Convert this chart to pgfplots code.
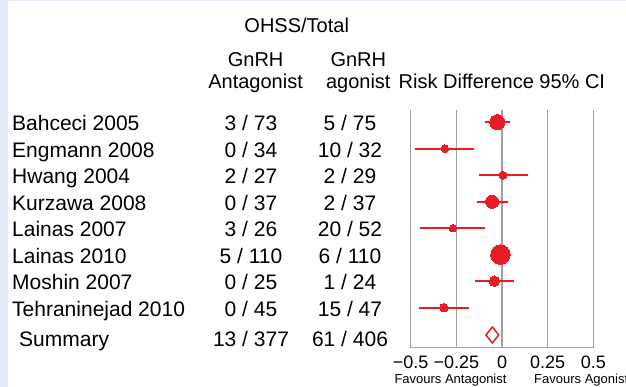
\documentclass[border=0pt]{standalone}
\usepackage{fontspec}
\setmainfont{Liberation Sans}
\usepackage{pgfplots}
\pgfplotsset{compat=1.18}
\usepackage{pgfplotstable}
\definecolor{myred}{RGB}{232,28,36}
\definecolor{gridgray}{RGB}{160,160,160}
\definecolor{bgblue}{RGB}{228,234,246}

\pgfplotstableread{
y rd lo hi r
1 -0.026 -0.095 0.043 7.6
2 -0.313 -0.478 -0.153 3.8
3 0.005 -0.128 0.140 4.0
4 -0.054 -0.137 0.031 6.6
5 -0.269 -0.447 -0.091 3.7
6 -0.009 -0.060 0.042 9.7
7 -0.042 -0.146 0.067 5.2
8 -0.319 -0.457 -0.183 4.3
}\studies

\newcommand{\rowfont}{\fontsize{21}{22}\selectfont}
\newcommand{\headfont}{\fontsize{20}{22}\selectfont}
\newcommand{\studyrow}[4]{%
  \pgfmathsetmacro{\yb}{387-130.7-26.5*(#1-1)}
  \node[font=\rowfont, anchor=base west, inner sep=0pt] at (12,\yb) {#2};
  \node[font=\rowfont, anchor=base, inner sep=0pt] at (251,\yb) {#3};
  \node[font=\rowfont, anchor=base, inner sep=0pt] at (350,\yb) {#4};
}

\begin{document}
\begin{tikzpicture}[x=1pt,y=1pt]
\useasboundingbox (0,0) rectangle (626,387);
\fill[white] (0,0) rectangle (626,387);
\fill[bgblue] (0,0) rectangle (8,387);
\fill[bgblue] (0,386) rectangle (626,387);
\begin{scope}
\clip (0,0) rectangle (626,387);
% header
\node[font=\headfont, anchor=base, inner sep=0pt] at (296.7,354) {OHSS/Total};
\node[font=\headfont, anchor=base, inner sep=0pt] at (255.6,320.3) {GnRH};
\node[font=\headfont, anchor=base, inner sep=0pt] at (255.6,298.7) {Antagonist};
\node[font=\headfont, anchor=base, inner sep=0pt] at (358.3,320.3) {GnRH};
\node[font=\headfont, anchor=base, inner sep=0pt] at (358.3,298.7) {agonist};
\node[font=\headfont, anchor=base west, inner sep=0pt] at (398.5,298.7) {Risk Difference 95\% CI};
% rows
\studyrow{1}{Bahceci 2005}{3 / 73}{5 / 75}
\studyrow{2}{Engmann 2008}{0 / 34}{10 / 32}
\studyrow{3}{Hwang 2004}{2 / 27}{2 / 29}
\studyrow{4}{Kurzawa 2008}{0 / 37}{2 / 37}
\studyrow{5}{Lainas 2007}{3 / 26}{20 / 52}
\studyrow{6}{Lainas 2010}{5 / 110}{6 / 110}
\studyrow{7}{Moshin 2007}{0 / 25}{1 / 24}
\studyrow{8}{Tehraninejad 2010}{0 / 45}{15 / 47}
\node[font=\rowfont, anchor=base west, inner sep=0pt] at (19,40.8) {Summary};
\node[font=\rowfont, anchor=base, inner sep=0pt] at (251,40.5) {13 / 377};
\node[font=\rowfont, anchor=base, inner sep=0pt] at (350,40.5) {61 / 406};
% favours
\node[font=\fontsize{13}{14}\selectfont, anchor=base, inner sep=0pt] at (450.5,3.4) {Favours Antagonist};
\node[font=\fontsize{13}{14}\selectfont, anchor=base west, inner sep=0pt] at (534,3.4) {Favours Agonist};

\begin{axis}[
  at={(410.7pt,39.3pt)}, anchor=south west,
  scale only axis, width=182.6pt, height=237.7pt,
  xmin=-0.5, xmax=0.5, ymin=0.54, ymax=9.51, y dir=reverse,
  axis x line=bottom, axis y line=none,
  axis line style={-, draw=gridgray, line width=1.5pt},
  xtick={-0.5,-0.25,0,0.25,0.5},
  xticklabels={−0.5,−0.25,0,0.25,0.5},
  major tick length=0pt,
  xticklabel style={font=\fontsize{18}{18}\selectfont, anchor=base, yshift=-21.3pt, inner sep=0pt},
  ytick=\empty,
  clip=false,
]
% vertical reference lines (drawn first, behind the data)
\addplot[gridgray, line width=1.5pt, mark=none] coordinates {(-0.5,0.54) (-0.5,9.51)};
\addplot[gridgray, line width=1.5pt, mark=none] coordinates {(-0.25,0.54) (-0.25,9.51)};
\addplot[gridgray, line width=1.5pt, mark=none] coordinates {(0,0.54) (0,9.51)};
\addplot[gridgray, line width=1.5pt, mark=none] coordinates {(0.25,0.54) (0.25,9.51)};
\addplot[gridgray, line width=1.5pt, mark=none] coordinates {(0.5,0.54) (0.5,9.51)};
% confidence intervals
\addplot[myred, line width=1.9pt, mark=none] coordinates {(-0.095,1) (0.043,1)};
\addplot[myred, line width=1.9pt, mark=none] coordinates {(-0.478,2) (-0.153,2)};
\addplot[myred, line width=1.9pt, mark=none] coordinates {(-0.128,3) (0.140,3)};
\addplot[myred, line width=1.9pt, mark=none] coordinates {(-0.137,4) (0.031,4)};
\addplot[myred, line width=1.9pt, mark=none] coordinates {(-0.447,5) (-0.091,5)};
\addplot[myred, line width=1.9pt, mark=none] coordinates {(-0.060,6) (0.042,6)};
\addplot[myred, line width=1.9pt, mark=none] coordinates {(-0.146,7) (0.067,7)};
\addplot[myred, line width=1.9pt, mark=none] coordinates {(-0.457,8) (-0.183,8)};
% point estimates
\addplot[scatter, only marks, mark=*,
  scatter/use mapped color={draw=myred, fill=myred},
  visualization depends on={\thisrow{r} \as \rad},
  scatter/@pre marker code/.append style={/tikz/mark size=\rad},
  mark options={line width=0pt}]
  table[x=rd, y=y] {\studies};
% summary diamond
\addplot[myred, line width=1.5pt, fill=white, mark=none]
  coordinates {(-0.088,9.03) (-0.053,8.73) (-0.018,9.03) (-0.053,9.33)} -- cycle;
\end{axis}
\end{scope}
\end{tikzpicture}
\end{document}
